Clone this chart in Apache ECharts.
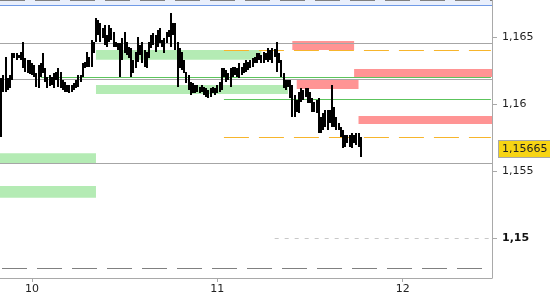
<!DOCTYPE html>
<html><head><meta charset="utf-8">
<script src="https://cdn.jsdelivr.net/npm/echarts@6/dist/echarts.min.js"></script>
<style>html,body{margin:0;padding:0;background:#fff}#c{width:550px;height:300px}</style>
</head><body><div id="c"></div>
<script>
// ---- data ----
const barHigh = [
1.16194,1.16216,1.16351,1.16194,1.16216,1.16381,1.16381,1.16381,1.16366,1.16388,1.16463,1.16343,1.16328,1.16328,1.16306,1.16291,1.16231,1.16291,1.16306,1.16381,1.16269,1.16201,1.16216,1.16201,1.16231,1.16239,1.16269,1.16239,
1.16179,1.16164,1.16142,1.16142,1.16142,1.16157,1.16179,1.16216,1.16216,1.16306,1.16313,1.16388,1.16351,1.16478,1.16463,1.16642,1.16627,1.16604,1.16567,1.16590,1.16515,1.16590,1.16567,1.16537,1.16463,1.16455,1.16455,
1.16493,1.16537,1.16463,1.16425,1.16418,1.16328,1.16388,1.16500,1.16440,1.16463,1.16403,1.16388,1.16463,1.16515,1.16530,1.16515,1.16552,1.16567,1.16478,1.16493,1.16537,1.16552,1.16679,1.16604,1.16604,1.16463,1.16418,
1.16388,1.16328,1.16239,1.16216,1.16164,1.16157,1.16142,1.16142,1.16127,1.16142,1.16127,1.16119,1.16104,1.16119,1.16127,1.16119,1.16142,1.16164,1.16269,1.16269,1.16254,1.16231,1.16269,1.16276,1.16276,1.16269,1.16306,
1.16276,1.16306,1.16328,1.16313,1.16328,1.16343,1.16351,1.16381,1.16381,1.16366,1.16388,1.16381,1.16418,1.16403,1.16418,1.16410,1.16463,1.16381,1.16328,1.16231,1.16179,1.16179,1.16179,1.16142,1.16067,1.16030,1.16090,
1.16119,1.16104,1.16119,1.16119,1.16090,1.16045,1.16015,1.16030,1.16045,1.15903,1.15933,1.15955,1.15955,1.15955,1.16142,1.15978,1.15903,1.15858,1.15828,1.15806,1.15769,1.15769,1.15769,1.15784,1.15769,1.15784,1.15784,1.15754
];
const barLow = [
1.15754,1.16090,1.16090,1.16104,1.16119,1.16179,1.16343,1.16328,1.16343,1.16328,1.16269,1.16239,1.16231,1.16224,1.16216,1.16201,1.16127,1.16119,1.16201,1.16231,1.16164,1.16119,1.16134,1.16142,1.16119,1.16179,1.16127,1.16119,
1.16104,1.16090,1.16090,1.16082,1.16090,1.16104,1.16119,1.16127,1.16164,1.16201,1.16269,1.16276,1.16276,1.16276,1.16381,1.16463,1.16515,1.16463,1.16493,1.16440,1.16425,1.16463,1.16478,1.16425,1.16425,1.16403,1.16201,
1.16328,1.16381,1.16366,1.16343,1.16201,1.16231,1.16269,1.16313,1.16366,1.16306,1.16276,1.16269,1.16343,1.16418,1.16440,1.16388,1.16425,1.16455,1.16425,1.16381,1.16455,1.16500,1.16425,1.16515,1.16403,1.16127,1.16269,
1.16254,1.16231,1.16157,1.16104,1.16067,1.16082,1.16082,1.16090,1.16082,1.16090,1.16067,1.16052,1.16045,1.16052,1.16082,1.16067,1.16082,1.16090,1.16104,1.16201,1.16164,1.16179,1.16127,1.16201,1.16216,1.16201,1.16194,
1.16216,1.16231,1.16239,1.16254,1.16269,1.16276,1.16306,1.16306,1.16328,1.16306,1.16306,1.16328,1.16313,1.16328,1.16306,1.16351,1.16239,1.16306,1.16201,1.16119,1.16104,1.16127,1.16045,1.15903,1.15903,1.15940,1.15933,
1.16015,1.16030,1.16052,1.16007,1.16007,1.15940,1.15940,1.15933,1.15784,1.15784,1.15806,1.15828,1.15806,1.15858,1.15828,1.15828,1.15806,1.15806,1.15754,1.15672,1.15679,1.15709,1.15679,1.15672,1.15709,1.15694,1.15679,1.15604
];
const lastPrice = 1.15665;
const priceTicks = [1.15, 1.155, 1.16, 1.165];
const boldTick = 1.15;
const dayLabels = ['10', '11', '12'];
const slotsPerDay = 84;
const firstDaySlot = 14;
const slotCount = 223;
const yMin = 1.14702;
const yMax = 1.16739;

// horizontal levels
const greyLevels = [1.16453, 1.16184, 1.15557];
const dashedLevel = 1.14774;
const greenLevels = [[18, 1.16201], [101, 1.16035]];      // [start slot, price]
const orangeLevels = [[101, 1.16401], [101, 1.15754]];
const dottedLevels = [[124, 1.15]];
// zones: [start slot | null (left edge), end slot | null (right edge), top, bottom]
const supportZones = [
  [null, 43, 1.15632, 1.15557],
  [null, 43, 1.15388, 1.15301],
  [43, 118, 1.16403, 1.16331],
  [43, 130, 1.16142, 1.16075]
];
const resistanceZones = [
  [132, 160, 1.16470, 1.16403],
  [160, null, 1.16261, 1.16201],
  [134, 162, 1.16184, 1.16112],
  [162, null, 1.15910, 1.15851]
];

// ---- build ----
const FONT = 'DejaVu Sans';
const categories = Array.from({length: slotCount}, (_, i) => String(i));
function dayAt(i) {
  const k = i - firstDaySlot;
  if (k < 0 || k % slotsPerDay !== 0) return null;
  const d = dayLabels[k / slotsPerDay];
  return d === undefined ? null : d;
}
const bars = barHigh.map((h, i) => [i, h, barLow[i]]);
const lastSlot = slotCount - 1;

function zoneItems(zones, color) {
  return zones.map(([s, e, t, b]) => {
    const p1 = {yAxis: t, itemStyle: {color: color}};
    if (s !== null) p1.xAxis = s;
    const p2 = {yAxis: b};
    if (e !== null) p2.xAxis = e;
    return [p1, p2];
  });
}
function partialLines(levels, style) {
  return levels.map(([s, v]) => [
    {xAxis: s, yAxis: v, lineStyle: style},
    {xAxis: lastSlot, yAxis: v, lineStyle: style}
  ]);
}
const fmt = v => String(v).replace('.', ',');

const option = {
  animation: false,
  grid: {left: 0, right: 58, top: 5, bottom: 22, containLabel: false},
  graphic: [
    {type: 'rect', silent: true, shape: {x: 0, y: 0, width: 492, height: 5}, style: {fill: '#e9effc'}},
    {type: 'line', silent: true, shape: {x1: 0, y1: 0.5, x2: 492, y2: 0.5}, style: {stroke: '#808080', lineWidth: 1, lineDash: [25, 10]}},
    {type: 'line', silent: true, shape: {x1: 0, y1: 5.5, x2: 492, y2: 5.5}, style: {stroke: '#6f9ae6', lineWidth: 1}},
    {type: 'line', silent: true, shape: {x1: 492.5, y1: 0, x2: 492.5, y2: 6}, style: {stroke: '#a9a9a9', lineWidth: 1}}
  ],
  xAxis: {
    type: 'category', data: categories, boundaryGap: true,
    axisLine: {lineStyle: {color: '#a9a9a9', width: 1}},
    axisTick: {show: true, alignWithLabel: true, length: 4, interval: i => dayAt(i) !== null, lineStyle: {color: '#a9a9a9'}},
    axisLabel: {interval: i => dayAt(i) !== null, formatter: (v, i) => dayAt(Number(v)) || '', color: '#222', fontSize: 11, fontFamily: FONT, margin: 6},
    splitLine: {show: false}
  },
  yAxis: {
    type: 'value', position: 'right', min: yMin, max: yMax, scale: true,
    axisLine: {show: true, lineStyle: {color: '#a9a9a9', width: 1}},
    axisTick: {show: true, customValues: priceTicks, length: 5, lineStyle: {color: '#a9a9a9'}},
    axisLabel: {
      customValues: priceTicks, margin: 10, color: '#1e1e1e', fontSize: 11, fontFamily: FONT,
      formatter: v => Math.abs(v - boldTick) < 1e-9 ? '{b|' + fmt(v) + '}' : '{n|' + fmt(v) + '}',
      rich: {
        b: {fontWeight: 'bold', fontSize: 11, fontFamily: FONT, color: '#111'},
        n: {fontSize: 11, fontFamily: FONT, color: '#1e1e1e'}
      }
    },
    splitLine: {show: false}
  },
  series: [
    {
      type: 'line', data: [], z: 1, silent: true, showSymbol: false,
      markArea: {
        silent: true, label: {show: false},
        data: [].concat(zoneItems(supportZones, '#b4ebb4'), zoneItems(resistanceZones, '#ff9494'))
      },
      markLine: {
        silent: true, symbol: 'none', animation: false, precision: 6, label: {show: false},
        emphasis: {disabled: true},
        data: [].concat(
          greyLevels.map(v => ({yAxis: v, lineStyle: {color: '#a6a6a6', width: 1, type: 'solid'}})),
          [{yAxis: dashedLevel, lineStyle: {color: '#808080', width: 1, type: [25, 10], dashOffset: 33}}],
          partialLines(greenLevels, {color: '#5cc45c', width: 1, type: 'solid'}),
          partialLines(orangeLevels, {color: '#f7b52c', width: 1, type: [25, 10]}),
          partialLines(dottedLevels, {color: '#c8c8c8', width: 1, type: [4, 6]})
        )
      }
    },
    {
      type: 'line', data: [], z: 20, silent: true, showSymbol: false,
      markLine: {
        silent: true, symbol: 'none', animation: false, precision: 6,
        emphasis: {disabled: true},
        lineStyle: {color: 'rgba(0,0,0,0)', width: 0},
        label: {
          show: true, position: 'end', distance: 7,
          formatter: () => fmt(lastPrice),
          color: '#222', fontSize: 11, fontFamily: FONT,
          padding: [3, 3, 2, 3],
          backgroundColor: '#f7d414',
          borderColor: '#a8a8a8', borderWidth: 1
        },
        data: [{yAxis: lastPrice}]
      }
    },
    {
      type: 'custom', z: 10, silent: true,
      data: bars,
      encode: {x: 0, y: [1, 2]},
      renderItem: (params, api) => {
        const i = api.value(0);
        const top = api.coord([i, api.value(1)]);
        const bot = api.coord([i, api.value(2)]);
        return {
          type: 'rect',
          shape: {x: Math.round(top[0]) - 1, y: top[1], width: 2, height: Math.max(1, bot[1] - top[1])},
          style: {fill: '#000'}
        };
      }
    }
  ]
};
const chart = echarts.init(document.getElementById('c'), null, {renderer: 'canvas'});
chart.setOption(option);
</script>
</body></html>
